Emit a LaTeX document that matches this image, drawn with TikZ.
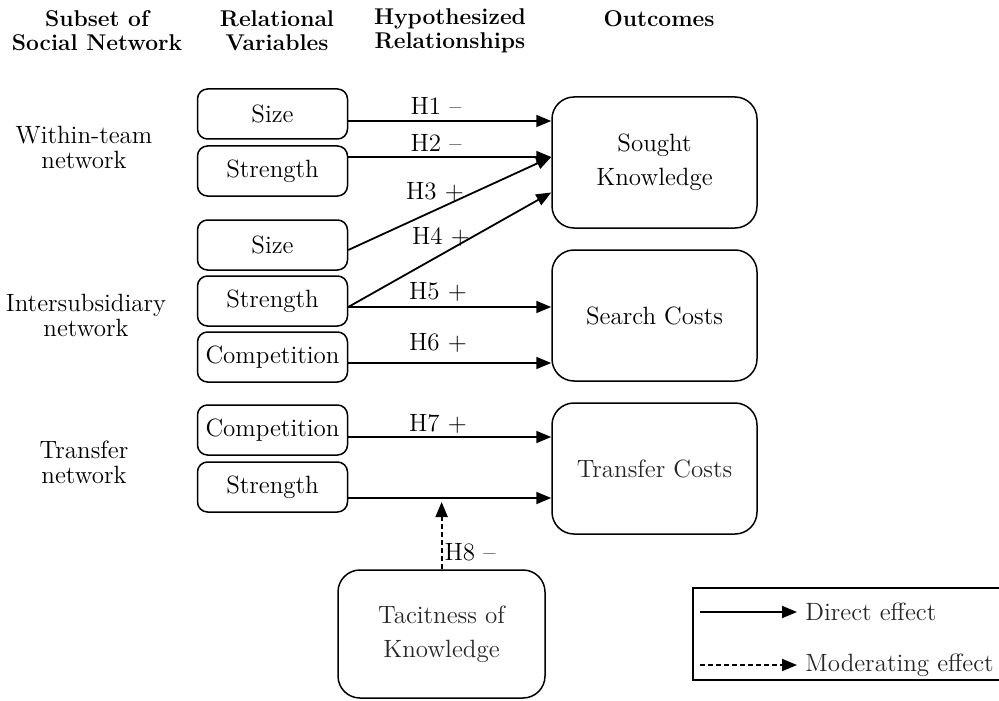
\documentclass[tikz,border=0pt]{standalone}
\usetikzlibrary{arrows.meta,calc}
\begin{document}
\begin{tikzpicture}[x=0.5pt,y=-0.5pt,
  txt/.style={font=\fontsize{12.5}{12.5}\selectfont, align=center, inner sep=0pt},
  hdr/.style={font=\fontsize{11.4}{12}\selectfont\bfseries, align=center, inner sep=0pt},
  varbox/.style={draw, line width=0.75pt, rounded corners=5pt, minimum width=75pt, minimum height=25pt, inner sep=0pt, font=\fontsize{12.5}{12.5}\selectfont},
  outbox/.style={draw, line width=0.75pt, rounded corners=11pt, minimum width=102.5pt, minimum height=65.5pt, inner sep=0pt, align=center, font=\fontsize{12.5}{17}\selectfont},
  arr/.style={line width=0.9pt, -{Triangle[length=7.5pt,width=6pt]}},
  darr/.style={line width=0.9pt, dash pattern=on 2.5pt off 1.5pt, -{Triangle[length=7.5pt,width=6pt]}},
  hl/.style={font=\fontsize{12.5}{12.5}\selectfont, inner sep=0pt}
]
\useasboundingbox (0,0) rectangle (999,700);

% headers
\node[hdr] (h1) at (97,31) {Subset of\\Social Network};
\node[hdr] (h2) at (277,31) {Relational\\Variables};
\node[hdr] (h3) at (450,31) {Hypothesized\\Relationships};
\node[hdr] (h4) at (659,19) {Outcomes};

% left labels
\node[txt] (wt) at (84,147) {Within-team\\network};
\node[txt] (is) at (86,315) {Intersubsidiary\\network};
\node[txt] (tn) at (84,462) {Transfer\\network};

% variable boxes
\node[varbox] (size1) at (272.5,114) {Size};
\node[varbox] (str1) at (272.5,171) {Strength};
\node[varbox] (size2) at (272.5,245) {Size};
\node[varbox] (str2) at (272.5,301) {Strength};
\node[varbox] (comp1) at (272.5,357) {Competition};
\node[varbox] (comp2) at (272.5,430) {Competition};
\node[varbox] (str3) at (272.5,487) {Strength};

% outcome boxes
\node[outbox] (sought) at (654.5,162.5) {Sought\\Knowledge};
\node[outbox] (search) at (654.5,315.5) {Search Costs};
\node[outbox, text=black!85] (transfer) at (654.5,468.5) {Transfer Costs};
\node[outbox, text=black!85, minimum width=103.5pt, minimum height=64pt] (tacit) at (441.5,634) {Tacitness of\\Knowledge};

% arrow start points
\coordinate (a1) at ([yshift=-3.5pt]size1.east);
\coordinate (a2) at ([yshift=7pt]str1.east);
\coordinate (a3) at ([yshift=-2.5pt]size2.east);
\coordinate (a4) at ([yshift=-3pt]str2.east);
\coordinate (a6) at ([yshift=-3pt]comp1.east);
\coordinate (a7) at ([yshift=-3.5pt]comp2.east);
\coordinate (a8) at ([yshift=-5.5pt]str3.east);
\coordinate (e4) at ([yshift=-15pt]sought.west);
\coordinate (m8) at ($(a8)!0.46!(a8 -| transfer.west)$);

\draw[arr] (a1) -- (a1 -| sought.west);
\draw[arr] (a2) -- (a2 -| sought.west);
\draw[arr] (a3) -- (a2 -| sought.west);
\draw[arr] (a4) -- (e4);
\draw[arr] (a4) -- (a4 -| search.west);
\draw[arr] (a6) -- (a6 -| search.west);
\draw[arr] (a7) -- (a7 -| transfer.west);
\draw[arr] (a8) -- (a8 -| transfer.west);
\draw[darr] (tacit.north -| m8) -- ([yshift=-2pt]m8);

% hypothesis labels
\node[hl] (l1) at (436,106) {H1 --};
\node[hl] (l2) at (436,143) {H2 --};
\node[hl] (l3) at (435,192) {H3 +};
\node[hl] (l4) at (441,237) {H4 +};
\node[hl] (l5) at (438,292) {H5 +};
\node[hl] (l6) at (438,343) {H6 +};
\node[hl] (l7) at (438,424) {H7 +};
\node[hl] (l8) at (470,552) {H8 --};

% legend
\draw[line width=1.2pt] (1005,588) -- (693,588) -- (693,680) -- (1005,680);
\coordinate (ls1) at (700,612);
\coordinate (le1) at (797,612);
\coordinate (ls2) at (700,665);
\coordinate (le2) at (797,665);
\draw[arr] (ls1) -- (le1);
\draw[darr] (ls2) -- (le2);
\node[hl, anchor=west, text=black!85] (lg1) at (805,612) {Direct effect};
\node[hl, anchor=west, text=black!85] (lg2) at (805,665) {Moderating effect};
\end{tikzpicture}
\end{document}
